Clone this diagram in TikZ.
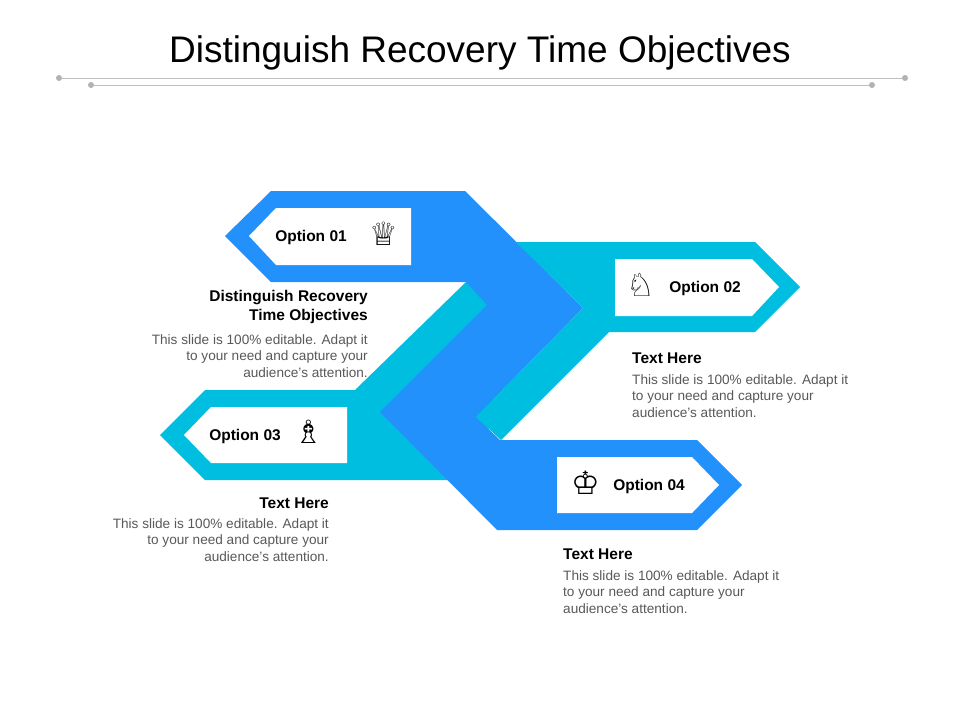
\documentclass[tikz,border=0pt]{standalone}
\usepackage{fontspec}
\setmainfont{Liberation Sans}
\newfontfamily\sym{DejaVu Sans}
\definecolor{dblue}{HTML}{2391FB}
\definecolor{cyanb}{HTML}{00BEDF}
\definecolor{bodyg}{HTML}{595959}
\begin{document}
\begin{tikzpicture}[x=1pt,y=-1pt,
  head/.style={font=\fontsize{15.5}{18}\selectfont\bfseries,inner sep=0pt},
  body/.style={font=\fontsize{13.6}{16.5}\selectfont,text=bodyg,inner sep=0pt},
  opt/.style={font=\fontsize{15.5}{16}\selectfont\bfseries,inner sep=0pt},
  ico/.style={font=\sym\fontsize{32}{32}\selectfont,inner sep=0pt},
  dot/.style={circle,fill=gray!60,inner sep=0pt,minimum size=6pt}]
\useasboundingbox[fill=white] (0,0) rectangle (960,720);
\node[font=\fontsize{37}{40}\selectfont] (title) at (480,53) {Distinguish Recovery Time Objectives};
\node[dot] (d1) at (59,78) {}; \node[dot] (d2) at (905,78) {};
\node[dot] (d3) at (91,85) {}; \node[dot] (d4) at (872,85) {};
\draw[gray!50,line width=1pt] (d1) -- (d2);
\draw[gray!50,line width=1pt] (d3) -- (d4);
% shapes
\fill[cyanb] (160,435) -- (205,390) -- (355,390) -- (466,282) -- (510,300) -- (480,480) -- (205,480) -- cycle;
\fill[dblue] (225,236) -- (271,191) -- (465,191) -- (583,308) -- (476,417) -- (500,440) -- (697,440) -- (742,485) -- (697,530) -- (497,530) -- (380,412) -- (487,305) -- (466,282) -- (271,282) -- cycle;
\fill[cyanb] (516,242) -- (755,242) -- (800,287) -- (755,332) -- (609,332) -- (501,440) -- (476,417) -- (583,308) -- cycle;
% boxes
\fill[white] (249,236) -- (276,208) -- (411,208) -- (411,265) -- (276,265) -- cycle;
\fill[white] (615,259) -- (752,259) -- (779,287) -- (752,316) -- (615,316) -- cycle;
\fill[white] (184,435) -- (211,407) -- (347,407) -- (347,463) -- (211,463) -- cycle;
\fill[white] (557,457) -- (692,457) -- (719,485) -- (692,513) -- (557,513) -- cycle;
\node[opt] (o1) at (311,237) {Option 01};
\node[opt] (o2) at (705,288) {Option 02};
\node[opt] (o3) at (245,436) {Option 03};
\node[opt] (o4) at (649,486) {Option 04};
\node[ico] (i1) at (384,234) {♕};
\node[ico] (i2) at (641,285) {♘};
\node[ico] (i3) at (309,432) {♗};
\node[ico] (i4) at (586,483) {♔};
% texts
\node[head,anchor=east,align=right] (h1) at (368,307) {Distinguish Recovery\\[1pt]Time Objectives};
\node[body,anchor=north east,align=right] (b1) at (368,334) {This slide is 100\% editable. Adapt it\\to your need and capture your\\audience's attention.};
\node[head,anchor=west] (h2) at (632,358) {Text Here};
\node[body,anchor=north west,align=left] (b2) at (632,374) {This slide is 100\% editable. Adapt it\\to your need and capture your\\audience's attention.};
\node[head,anchor=east] (h3) at (329,503) {Text Here};
\node[body,anchor=north east,align=right] (b3) at (329,518) {This slide is 100\% editable. Adapt it\\to your need and capture your\\audience's attention.};
\node[head,anchor=west] (h4) at (563,554) {Text Here};
\node[body,anchor=north west,align=left] (b4) at (563,570) {This slide is 100\% editable. Adapt it\\to your need and capture your\\audience's attention.};
\end{tikzpicture}
\end{document}
